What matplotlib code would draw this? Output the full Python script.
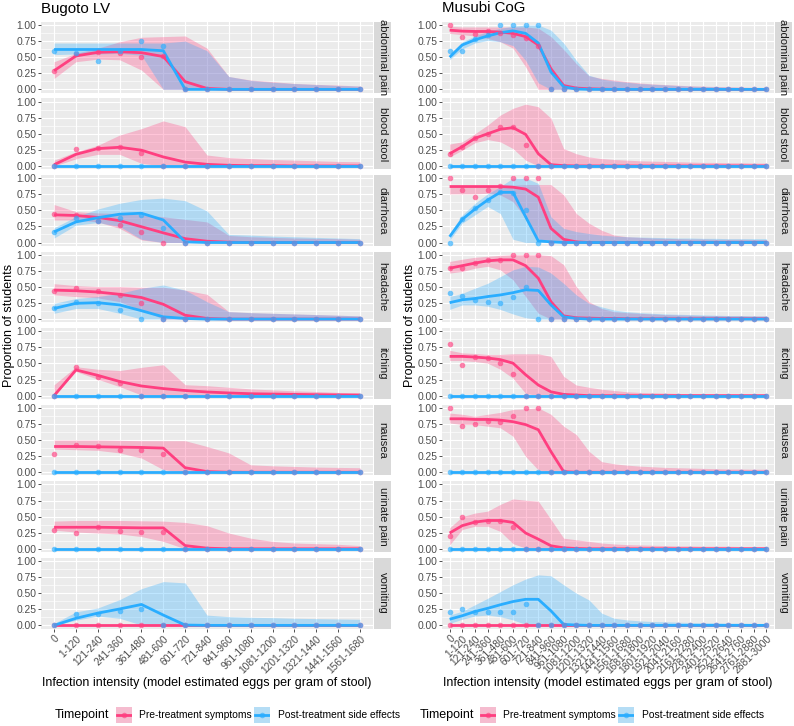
import matplotlib
matplotlib.use("Agg")
import matplotlib.pyplot as plt
from matplotlib.lines import Line2D
from matplotlib.patches import Rectangle

plt.rcParams['font.family'] = ['Liberation Sans', 'DejaVu Sans']

PINK = '#FF3F80'
BLUE = '#2AADFF'
PANEL_BG = '#EBEBEB'
STRIP_BG = '#D9D9D9'

symptoms = ["abdominal pain", "blood stool", "diarrhoea", "headache",
            "itching", "nausea", "urinate pain", "vomiting"]

bugoto_bins = ["0", "1-120", "121-240", "241-360", "361-480", "481-600",
               "601-720", "721-840", "841-960", "961-1080", "1081-1200",
               "1201-1320", "1321-1440", "1441-1560", "1561-1680"]
musubi_bins = bugoto_bins + ["1681-1800", "1801-1920", "1921-2040",
                             "2041-2160", "2161-2280", "2281-2400",
                             "2401-2520", "2521-2640", "2641-2760",
                             "2761-2880", "2881-3000"]

Z15 = [0] * 15
Z26 = [0] * 26

# ---- Bugoto LV (15 bins) ----
bug_pre_fit = [
    [0.29, 0.52, 0.575, 0.585, 0.57, 0.51, 0.12, 0.015, 0, 0, 0, 0, 0, 0, 0],
    [0.02, 0.18, 0.27, 0.29, 0.245, 0.14, 0.06, 0.025, 0.01, 0.005, 0.005, 0, 0, 0, 0],
    [0.43, 0.42, 0.39, 0.34, 0.245, 0.15, 0.06, 0.02, 0.005, 0, 0, 0, 0, 0, 0],
    [0.45, 0.44, 0.42, 0.385, 0.335, 0.23, 0.06, 0.01, 0, 0, 0, 0, 0, 0, 0],
    [0, 0.4, 0.315, 0.22, 0.15, 0.11, 0.08, 0.057, 0.042, 0.03, 0.025, 0.02, 0.015, 0.012, 0.01],
    [0.4, 0.4, 0.395, 0.39, 0.385, 0.375, 0.07, 0.01, 0, 0, 0, 0, 0, 0, 0],
    [0.335, 0.335, 0.335, 0.33, 0.325, 0.325, 0.05, 0.01, 0, 0, 0, 0, 0, 0, 0],
    Z15,
]
bug_pre_lo = [
    [0.17, 0.43, 0.47, 0.46, 0.3, 0, 0, 0, 0, 0, 0, 0, 0, 0, 0],
    [0, 0.11, 0.18, 0.18, 0.04, 0, 0, 0, 0, 0, 0, 0, 0, 0, 0],
    [0.35, 0.35, 0.32, 0.22, 0.04, 0, 0, 0, 0, 0, 0, 0, 0, 0, 0],
    [0.375, 0.35, 0.33, 0.27, 0.14, 0, 0, 0, 0, 0, 0, 0, 0, 0, 0],
    [0, 0.375, 0.255, 0.14, 0.01, 0, 0, 0, 0, 0, 0, 0, 0, 0, 0],
    [0.36, 0.35, 0.34, 0.3, 0.22, 0.04, 0, 0, 0, 0, 0, 0, 0, 0, 0],
    [0.29, 0.26, 0.245, 0.23, 0.19, 0.115, 0, 0, 0, 0, 0, 0, 0, 0, 0],
    Z15,
]
bug_pre_hi = [
    [0.43, 0.56, 0.64, 0.74, 0.81, 0.82, 0.83, 0.64, 0.2, 0.145, 0.12, 0.093, 0.078, 0.067, 0.052],
    [0.09, 0.22, 0.32, 0.48, 0.58, 0.7, 0.61, 0.17, 0.13, 0.115, 0.1, 0.09, 0.08, 0.07, 0.065],
    [0.59, 0.48, 0.46, 0.45, 0.43, 0.4, 0.36, 0.32, 0.11, 0.09, 0.08, 0.07, 0.065, 0.06, 0.05],
    [0.55, 0.52, 0.505, 0.505, 0.495, 0.495, 0.45, 0.385, 0.115, 0.1, 0.09, 0.08, 0.07, 0.06, 0.05],
    [0.17, 0.45, 0.41, 0.39, 0.44, 0.48, 0.17, 0.155, 0.13, 0.105, 0.09, 0.075, 0.065, 0.05, 0.04],
    [0.5, 0.5, 0.5, 0.495, 0.49, 0.49, 0.49, 0.4, 0.3, 0.115, 0.1, 0.09, 0.08, 0.075, 0.07],
    [0.43, 0.44, 0.44, 0.44, 0.435, 0.43, 0.41, 0.36, 0.245, 0.165, 0.115, 0.09, 0.08, 0.07, 0.05],
    Z15,
]
bug_pre_pts = [
    [0.29, 0.55, 0.58, 0.57, 0.5, 0.52, 0, 0, 0, 0, 0, 0, 0, 0, 0],
    [0, 0.26, 0.28, 0.29, 0.2, 0, 0, 0, 0, 0, 0, 0, 0, 0, 0],
    [0.44, 0.43, 0.34, 0.27, 0.17, 0, 0, 0, 0, 0, 0, 0, 0, 0, 0],
    [0.43, 0.48, 0.44, 0.375, 0.255, 0, 0, 0, 0, 0, 0, 0, 0, 0, 0],
    [0, 0.44, 0.29, 0.19, 0, 0, 0, 0, 0, 0, 0, 0, 0, 0, 0],
    [0.29, 0.43, 0.4, 0.34, 0.34, 0.29, 0, 0, 0, 0, 0, 0, 0, 0, 0],
    [0.29, 0.245, 0.335, 0.275, 0.255, 0.255, 0, 0, 0, 0, 0, 0, 0, 0, 0],
    Z15,
]
bug_post_fit = [
    [0.62, 0.62, 0.62, 0.62, 0.62, 0.6, 0, 0, 0, 0, 0, 0, 0, 0, 0],
    Z15,
    [0.165, 0.32, 0.385, 0.44, 0.455, 0.35, 0.01, 0, 0, 0, 0, 0, 0, 0, 0],
    [0.165, 0.245, 0.255, 0.22, 0.13, 0.035, 0.01, 0, 0, 0, 0, 0, 0, 0, 0],
    Z15, Z15, Z15,
    [0, 0.11, 0.19, 0.255, 0.325, 0.16, 0.005, 0, 0, 0, 0, 0, 0, 0, 0],
]
bug_post_lo = [
    [0.54, 0.55, 0.55, 0.56, 0.53, 0, 0, 0, 0, 0, 0, 0, 0, 0, 0],
    Z15,
    [0.07, 0.27, 0.31, 0.25, 0.05, 0, 0, 0, 0, 0, 0, 0, 0, 0, 0],
    [0.09, 0.165, 0.165, 0.09, 0, 0, 0, 0, 0, 0, 0, 0, 0, 0, 0],
    Z15, Z15, Z15,
    [0, 0.08, 0.145, 0.11, 0.005, 0, 0, 0, 0, 0, 0, 0, 0, 0, 0],
]
bug_post_hi = [
    [0.72, 0.72, 0.72, 0.72, 0.72, 0.72, 0.75, 0.6, 0.2, 0.14, 0.11, 0.09, 0.075, 0.06, 0.05],
    Z15,
    [0.23, 0.4, 0.52, 0.61, 0.67, 0.69, 0.65, 0.49, 0.125, 0.115, 0.1, 0.09, 0.08, 0.07, 0.06],
    [0.245, 0.32, 0.35, 0.4, 0.48, 0.53, 0.45, 0.27, 0.115, 0.1, 0.09, 0.08, 0.07, 0.06, 0.05],
    Z15, Z15, Z15,
    [0.03, 0.21, 0.27, 0.4, 0.57, 0.68, 0.66, 0.16, 0.135, 0.125, 0.12, 0.11, 0.105, 0.1, 0.095],
]
bug_post_pts = [
    [0.6, 0.57, 0.44, 0.6, 0.75, 0.67, 0, 0, 0, 0, 0, 0, 0, 0, 0],
    Z15,
    [0.165, 0.375, 0.34, 0.375, 0.43, 0.23, 0, 0, 0, 0, 0, 0, 0, 0, 0],
    [0.165, 0.27, 0.255, 0.14, 0, 0, 0, 0, 0, 0, 0, 0, 0, 0, 0],
    Z15, Z15, Z15,
    [0, 0.17, 0.17, 0.22, 0.25, 0, 0, 0, 0, 0, 0, 0, 0, 0, 0],
]

# ---- Musubi CoG (26 bins) ----
mus_pre_fit = [
    [0.92, 0.905, 0.9, 0.9, 0.89, 0.87, 0.82, 0.69, 0.32, 0.06, 0.02, 0.01, 0.005, 0, 0, 0, 0, 0, 0, 0, 0, 0, 0, 0, 0, 0],
    [0.19, 0.3, 0.43, 0.5, 0.57, 0.595, 0.49, 0.19, 0.02, 0.005, 0, 0, 0, 0, 0, 0, 0, 0, 0, 0, 0, 0, 0, 0, 0, 0],
    [0.87, 0.87, 0.87, 0.87, 0.87, 0.86, 0.83, 0.705, 0.22, 0.05, 0.01, 0, 0, 0, 0, 0, 0, 0, 0, 0, 0, 0, 0, 0, 0, 0],
    [0.79, 0.83, 0.87, 0.905, 0.92, 0.92, 0.83, 0.635, 0.27, 0.05, 0.02, 0.015, 0.01, 0.01, 0.005, 0.005, 0.005, 0.005, 0.005, 0.005, 0.005, 0.005, 0.005, 0.005, 0.005, 0.005],
    [0.61, 0.61, 0.6, 0.585, 0.56, 0.505, 0.325, 0.165, 0.06, 0.02, 0.01, 0, 0, 0, 0, 0, 0, 0, 0, 0, 0, 0, 0, 0, 0, 0],
    [0.83, 0.83, 0.82, 0.82, 0.81, 0.785, 0.74, 0.66, 0.32, 0.01, 0, 0, 0, 0, 0, 0, 0, 0, 0, 0, 0, 0, 0, 0, 0, 0],
    [0.245, 0.36, 0.415, 0.44, 0.44, 0.41, 0.245, 0.15, 0.047, 0.015, 0.005, 0, 0, 0, 0, 0, 0, 0, 0, 0, 0, 0, 0, 0, 0, 0],
    Z26,
]
mus_pre_lo = [
    [0.87, 0.85, 0.83, 0.79, 0.74, 0.64, 0.35, 0, 0, 0, 0, 0, 0, 0, 0, 0, 0, 0, 0, 0, 0, 0, 0, 0, 0, 0],
    [0.14, 0.245, 0.36, 0.41, 0.375, 0.27, 0.09, 0, 0, 0, 0, 0, 0, 0, 0, 0, 0, 0, 0, 0, 0, 0, 0, 0, 0, 0],
    [0.755, 0.755, 0.755, 0.765, 0.74, 0.635, 0.375, 0.06, 0, 0, 0, 0, 0, 0, 0, 0, 0, 0, 0, 0, 0, 0, 0, 0, 0, 0],
    [0.715, 0.74, 0.79, 0.82, 0.765, 0.61, 0.35, 0.09, 0, 0, 0, 0, 0, 0, 0, 0, 0, 0, 0, 0, 0, 0, 0, 0, 0, 0],
    [0.545, 0.545, 0.53, 0.505, 0.41, 0.27, 0.035, 0, 0, 0, 0, 0, 0, 0, 0, 0, 0, 0, 0, 0, 0, 0, 0, 0, 0, 0],
    [0.765, 0.74, 0.74, 0.715, 0.69, 0.56, 0.245, 0.035, 0, 0, 0, 0, 0, 0, 0, 0, 0, 0, 0, 0, 0, 0, 0, 0, 0, 0],
    [0.06, 0.3, 0.35, 0.35, 0.27, 0.08, 0.01, 0, 0, 0, 0, 0, 0, 0, 0, 0, 0, 0, 0, 0, 0, 0, 0, 0, 0, 0],
    Z26,
]
mus_pre_hi = [
    [0.98, 0.97, 0.97, 0.97, 0.97, 0.97, 0.97, 0.95, 0.82, 0.62, 0.4, 0.21, 0.17, 0.145, 0.12, 0.1, 0.085, 0.075, 0.065, 0.055, 0.05, 0.045, 0.04, 0.035, 0.03, 0.03],
    [0.34, 0.375, 0.5, 0.635, 0.79, 0.895, 0.96, 0.92, 0.74, 0.27, 0.19, 0.14, 0.115, 0.1, 0.09, 0.08, 0.075, 0.07, 0.065, 0.06, 0.055, 0.055, 0.05, 0.05, 0.045, 0.045],
    [0.88, 0.88, 0.88, 0.88, 0.89, 0.89, 0.9, 0.9, 0.9, 0.74, 0.45, 0.3, 0.19, 0.115, 0.09, 0.08, 0.07, 0.065, 0.06, 0.055, 0.055, 0.05, 0.05, 0.05, 0.047, 0.047],
    [0.895, 0.93, 0.96, 0.975, 0.99, 1.0, 1.0, 1.0, 0.985, 0.845, 0.505, 0.27, 0.165, 0.115, 0.1, 0.09, 0.08, 0.07, 0.065, 0.06, 0.055, 0.055, 0.05, 0.05, 0.047, 0.047],
    [0.705, 0.665, 0.655, 0.64, 0.64, 0.65, 0.65, 0.65, 0.61, 0.3, 0.165, 0.13, 0.1, 0.08, 0.06, 0.05, 0.045, 0.04, 0.035, 0.03, 0.03, 0.025, 0.025, 0.02, 0.02, 0.02],
    [0.92, 0.9, 0.87, 0.9, 0.93, 0.975, 0.985, 1.0, 0.9, 0.715, 0.585, 0.325, 0.165, 0.13, 0.11, 0.095, 0.085, 0.075, 0.07, 0.065, 0.06, 0.055, 0.05, 0.05, 0.047, 0.047],
    [0.325, 0.5, 0.555, 0.585, 0.69, 0.775, 0.755, 0.74, 0.455, 0.165, 0.14, 0.115, 0.09, 0.075, 0.065, 0.06, 0.055, 0.05, 0.045, 0.045, 0.04, 0.04, 0.04, 0.035, 0.035, 0.035],
    Z26,
]
mus_pre_pts = [
    [1.0, 0.81, 0.86, 0.9, 0.88, 0.85, 0.8, 0.67, 0, 0, 0, 0, 0, 0, 0, 0, 0, 0, 0, 0, 0, 0, 0, 0, 0, 0],
    [0.18, 0.29, 0.44, 0.5, 0.61, 0.61, 0.33, 0, 0, 0, 0, 0, 0, 0, 0, 0, 0, 0, 0, 0, 0, 0, 0, 0, 0, 0],
    [1.0, 0.81, 0.7, 0.81, 0.885, 1.0, 1.0, 1.0, 0, 0, 0, 0, 0, 0, 0, 0, 0, 0, 0, 0, 0, 0, 0, 0, 0, 0],
    [0.8, 0.8, 0.87, 0.92, 0.92, 1.0, 1.0, 1.0, 0, 0, 0, 0, 0, 0, 0, 0, 0, 0, 0, 0, 0, 0, 0, 0, 0, 0],
    [0.81, 0.48, 0.6, 0.585, 0.505, 0.34, 0, 0, 0, 0, 0, 0, 0, 0, 0, 0, 0, 0, 0, 0, 0, 0, 0, 0, 0, 0],
    [1.0, 0.725, 0.755, 0.79, 0.775, 0.87, 1.0, 1.0, 0, 0, 0, 0, 0, 0, 0, 0, 0, 0, 0, 0, 0, 0, 0, 0, 0, 0],
    [0.2, 0.5, 0.41, 0.43, 0.43, 0.335, 0, 0, 0, 0, 0, 0, 0, 0, 0, 0, 0, 0, 0, 0, 0, 0, 0, 0, 0, 0],
    Z26,
]
mus_post_fit = [
    [0.5, 0.69, 0.77, 0.83, 0.88, 0.91, 0.87, 0.72, 0.27, 0.04, 0.005, 0, 0, 0, 0, 0, 0, 0, 0, 0, 0, 0, 0, 0, 0, 0],
    Z26,
    [0.09, 0.36, 0.52, 0.66, 0.78, 0.78, 0.4, 0.025, 0.01, 0, 0, 0, 0, 0, 0, 0, 0, 0, 0, 0, 0, 0, 0, 0, 0, 0],
    [0.255, 0.3, 0.32, 0.35, 0.375, 0.41, 0.455, 0.445, 0.22, 0.035, 0.01, 0, 0, 0, 0, 0, 0, 0, 0, 0, 0, 0, 0, 0, 0, 0],
    Z26, Z26, Z26,
    [0.095, 0.15, 0.215, 0.265, 0.32, 0.37, 0.405, 0.405, 0.225, 0.015, 0.005, 0, 0, 0, 0, 0, 0, 0, 0, 0, 0, 0, 0, 0, 0, 0],
]
mus_post_lo = [
    [0.46, 0.63, 0.72, 0.76, 0.74, 0.68, 0.45, 0.1, 0, 0, 0, 0, 0, 0, 0, 0, 0, 0, 0, 0, 0, 0, 0, 0, 0, 0],
    Z26,
    [0.035, 0.3, 0.43, 0.56, 0.45, 0.05, 0, 0, 0, 0, 0, 0, 0, 0, 0, 0, 0, 0, 0, 0, 0, 0, 0, 0, 0, 0],
    [0.15, 0.22, 0.22, 0.2, 0.15, 0.08, 0.02, 0, 0, 0, 0, 0, 0, 0, 0, 0, 0, 0, 0, 0, 0, 0, 0, 0, 0, 0],
    Z26, Z26, Z26,
    [0.03, 0.095, 0.145, 0.16, 0.135, 0.085, 0.015, 0, 0, 0, 0, 0, 0, 0, 0, 0, 0, 0, 0, 0, 0, 0, 0, 0, 0, 0],
]
mus_post_hi = [
    [0.55, 0.74, 0.83, 0.9, 0.95, 0.98, 1.0, 1.0, 0.92, 0.72, 0.45, 0.22, 0.16, 0.13, 0.11, 0.09, 0.08, 0.07, 0.06, 0.05, 0.045, 0.04, 0.035, 0.03, 0.03, 0.03],
    Z26,
    [0.14, 0.43, 0.61, 0.755, 0.87, 1.0, 1.0, 0.92, 0.4, 0.22, 0.17, 0.14, 0.115, 0.1, 0.09, 0.085, 0.08, 0.075, 0.07, 0.07, 0.065, 0.065, 0.06, 0.06, 0.06, 0.06],
    [0.35, 0.4, 0.48, 0.555, 0.66, 0.765, 0.82, 0.81, 0.715, 0.555, 0.375, 0.245, 0.19, 0.14, 0.115, 0.1, 0.09, 0.08, 0.075, 0.07, 0.065, 0.06, 0.055, 0.055, 0.05, 0.05],
    Z26, Z26, Z26,
    [0.16, 0.22, 0.32, 0.42, 0.525, 0.63, 0.72, 0.785, 0.77, 0.63, 0.5, 0.395, 0.19, 0.11, 0.085, 0.07, 0.06, 0.055, 0.05, 0.045, 0.04, 0.04, 0.035, 0.035, 0.03, 0.03],
]
mus_post_pts = [
    [0.6, 0.6, 0.78, 0.85, 1.0, 1.0, 1.0, 1.0, 0, 0, 0, 0, 0, 0, 0, 0, 0, 0, 0, 0, 0, 0, 0, 0, 0, 0],
    Z26,
    [0, 0.365, 0.53, 0.665, 0.79, 0.765, 0.5, 0, 0, 0, 0, 0, 0, 0, 0, 0, 0, 0, 0, 0, 0, 0, 0, 0, 0, 0],
    [0.4, 0.365, 0.3, 0.27, 0.255, 0.34, 0.505, 0, 0, 0, 0, 0, 0, 0, 0, 0, 0, 0, 0, 0, 0, 0, 0, 0, 0, 0],
    Z26, Z26, Z26,
    [0.2, 0.25, 0.2, 0.2, 0.2, 0.2, 0.33, 0, 0, 0, 0, 0, 0, 0, 0, 0, 0, 0, 0, 0, 0, 0, 0, 0, 0, 0],
]

W, H = 794, 726
fig = plt.figure(figsize=(W / 100, H / 100), dpi=100)


def px_axes(x0, y0, w, h):
    return fig.add_axes([x0 / W, 1 - (y0 + h) / H, w / W, h / H])


PANEL_TOP = 21.8
PANEL_H = 70.8
PITCH = 76.57


def draw_site(x0, bins, pre, post, title):
    n = len(bins)
    x = list(range(n))
    for i, sym in enumerate(symptoms):
        y0 = PANEL_TOP + PITCH * i
        ax = px_axes(x0, y0, 332, PANEL_H)
        ax.set_facecolor(PANEL_BG)
        for s in ax.spines.values():
            s.set_visible(False)
        ax.set_xlim(-0.6, n - 1 + 0.6)
        ax.set_ylim(-0.05, 1.05)
        ax.set_yticks([0, 0.25, 0.5, 0.75, 1.0])
        ax.set_yticklabels(["0.00", "0.25", "0.50", "0.75", "1.00"])
        ax.set_yticks([0.125, 0.375, 0.625, 0.875], minor=True)
        ax.set_xticks(x)
        ax.grid(True, which='major', color='white', lw=0.85)
        ax.grid(True, which='minor', axis='y', color='white', lw=0.45)
        ax.set_axisbelow(True)
        ax.tick_params(axis='y', which='major', length=2, width=0.6, pad=1.2,
                       color='#333333', labelsize=7.4, labelcolor='#4D4D4D')
        ax.tick_params(axis='y', which='minor', length=0)
        if i == len(symptoms) - 1:
            ax.tick_params(axis='x', length=2, width=0.6, pad=1.5,
                           color='#333333', labelsize=7.4, labelcolor='#4D4D4D')
            ax.set_xticklabels(bins, rotation=45, ha='right', va='top',
                               rotation_mode='anchor')
        else:
            ax.tick_params(axis='x', length=0, labelbottom=False)

        for (fit, lo, hi, pts), col in ((pre, PINK), (post, BLUE)):
            if max(hi[i]) > 0:
                ax.fill_between(x, lo[i], hi[i], color=col, alpha=0.3, lw=0, zorder=2)
        for (fit, lo, hi, pts), col in ((pre, PINK), (post, BLUE)):
            ax.plot(x, fit[i], color=col, lw=2.0, zorder=3, solid_capstyle='butt')
        for (fit, lo, hi, pts), col in ((pre, PINK), (post, BLUE)):
            ax.plot(x, pts[i], 'o', color=col, alpha=0.65, ms=4.0, mew=0, zorder=4)

        sax = px_axes(x0 + 333, y0, 17, PANEL_H)
        sax.set_facecolor(STRIP_BG)
        sax.set_xticks([])
        sax.set_yticks([])
        for s in sax.spines.values():
            s.set_visible(False)
        sax.text(0.5, 0.5, sym, rotation=-90, ha='center', va='center',
                 fontsize=8, color='#1A1A1A', transform=sax.transAxes)

    fig.text(x0 / W, 1 - 8.5 / H, title, fontsize=10.8, ha='left', va='center')
    fig.text((x0 + 166) / W, 1 - 683 / H,
             "Infection intensity (model estimated eggs per gram of stool)",
             fontsize=9, ha='center', va='center')
    fig.text((x0 - 32) / W, 1 - 325.7 / H, "Proportion of students",
             fontsize=9, rotation=90, ha='center', va='center')


draw_site(41, bugoto_bins,
          (bug_pre_fit, bug_pre_lo, bug_pre_hi, bug_pre_pts),
          (bug_post_fit, bug_post_lo, bug_post_hi, bug_post_pts), "Bugoto LV")
draw_site(442, musubi_bins,
          (mus_pre_fit, mus_pre_lo, mus_pre_hi, mus_pre_pts),
          (mus_post_fit, mus_post_lo, mus_post_hi, mus_post_pts), "Musubi CoG")

# legends
legend_labels = ["Pre-treatment symptoms", "Post-treatment side effects"]


def draw_legend(title_x, keys_x, text_x):
    yc = 715
    fig.text(title_x / W, 1 - yc / H, "Timepoint", fontsize=9, ha='left', va='center')
    for kx, tx, col, lab in zip(keys_x, text_x, (PINK, BLUE), legend_labels):
        kax = px_axes(kx, yc - 8, 16, 16)
        kax.set_xlim(0, 1)
        kax.set_ylim(0, 1)
        kax.axis('off')
        kax.add_patch(Rectangle((0, 0), 1, 1, facecolor='#F2F2F2', lw=0))
        kax.add_patch(Rectangle((0, 0), 1, 1, facecolor=col, alpha=0.3, lw=0))
        kax.add_line(Line2D([0.05, 0.95], [0.5, 0.5], color=col, lw=2.0))
        kax.plot([0.5], [0.5], 'o', color=col, alpha=0.65, ms=4.0, mew=0)
        fig.text(tx / W, 1 - yc / H, lab, fontsize=7.4, ha='left', va='center')


draw_legend(55, (116, 254), (139, 278))
draw_legend(420, (480, 618), (503, 642))

fig.savefig("out.png", dpi=100, facecolor='white')
